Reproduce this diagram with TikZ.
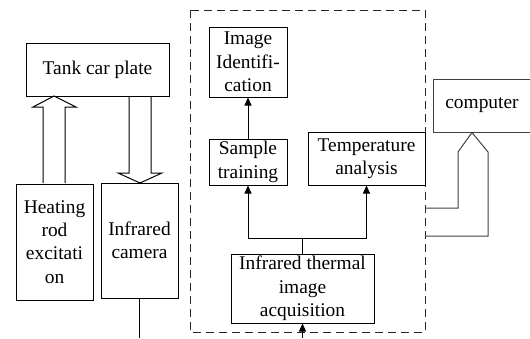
\documentclass[tikz,border=0pt]{standalone}
\usepackage{fontspec}
\setmainfont{Liberation Serif}
\usetikzlibrary{arrows.meta}
\begin{document}
\begin{tikzpicture}[x=1pt,y=-1pt,line width=1pt,
  box/.style={draw,inner sep=0pt,align=center,
    font=\fontsize{19.4}{23.3}\selectfont},
  flow/.style={-{Triangle[length=8pt,width=7pt]}},
  hollow/.style={draw,line join=miter},
  pc/.style={draw=black!75}]
\useasboundingbox (0,0) rectangle (530,338);

% dashed processing frame
\draw[dash pattern=on 8pt off 5pt,black!85] (190,10) rectangle (425,332);

% blocks
\node[box,minimum width=143pt,minimum height=53pt] (tank) at (97.5,69.5) {Tank car plate};
\node[box,minimum width=77pt,minimum height=116pt] (heat) at (54.5,242) {Heating\\rod\\excitati\\on};
\node[box,minimum width=77pt,minimum height=115pt] (cam) at (139.5,240.5) {Infrared\\camera};
\node[box,minimum width=78pt,minimum height=70pt] (imgid) at (248,62) {Image\\Identifi-\\cation};
\node[box,minimum width=78pt,minimum height=46pt] (sample) at (248,162) {Sample\\training};
\node[box,minimum width=117pt,minimum height=53pt] (temp) at (366.5,158.5) {Temperature\\analysis};
\node[box,minimum width=143pt,minimum height=69pt] (therm) at (302.5,288.5) {Infrared thermal\\image\\acquisition};
\node[box,pc,minimum width=98pt,minimum height=53pt] (comp) at (482,105.5) {computer};

% hollow arrows between plate, heater and camera
\draw[hollow] (43,183) -- (43,107) -- (33,107) -- (54,96) -- (76,107) -- (65,107) -- (65,183);
\draw[hollow] (129,96) -- (129,173) -- (118,173) -- (140,183) -- (162,173) -- (151,173) -- (151,96);

% hollow link to the computer
\draw[hollow,pc] (425,208) -- (458,208) -- (458,152) -- (comp.south -| 472,0) -- (488,152) -- (488,236) -- (425,236);

% camera output line
\coordinate (camout) at (cam.south |- 0,338);
\draw (cam.south) -- (camout);

% data flow inside the frame
\coordinate (split) at (therm.north |- 0,238);
\coordinate (thin) at (therm.south |- 0,338);
\draw[flow] (thin) -- (therm.south);
\draw (therm.north) -- (split);
\draw[flow] (split) -| (sample.south);
\draw[flow] (split) -| (temp.south);
\draw[flow] (sample.north) -- (imgid.south);
\end{tikzpicture}
\end{document}
